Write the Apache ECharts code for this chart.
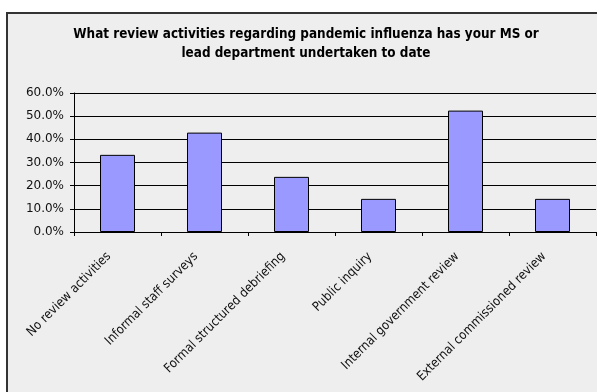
<!DOCTYPE html>
<html lang="en">
<head>
    <meta charset="utf-8">
    <title>Review activities</title>
    <style>
        html, body { margin: 0; padding: 0; background: #fff; }
        #main { width: 597px; height: 392px; }
    </style>
</head>
<body>
    <div id="main"></div>
    <script src="https://cdn.jsdelivr.net/npm/echarts@6/dist/echarts.min.js"></script>
    <script>
    var categories = [
        'No review activities',
        'Informal staff surveys',
        'Formal structured debriefing',
        'Public inquiry',
        'Internal government review',
        'External commissioned review'
    ];
    var values = [33.3, 42.9, 23.8, 14.3, 52.4, 14.3];
    var yTicks = [0, 10, 20, 30, 40, 50, 60];

    var chart = echarts.init(document.getElementById('main'));

    var option = {
        backgroundColor: '#ffffff',
        animation: false,
        textStyle: { fontFamily: 'DejaVu Sans Condensed' },
        graphic: [{
            type: 'rect',
            z: -10,
            shape: { x: 7, y: 13, width: 620, height: 400 },
            style: { fill: '#eeeeee', stroke: '#333333', lineWidth: 2 }
        }],
        title: {
            text: 'What review activities regarding pandemic influenza has your MS or\nlead department undertaken to date',
            left: 301,
            top: 20,
            textAlign: 'center',
            textStyle: {
                fontFamily: 'DejaVu Sans Condensed',
                fontSize: 13.4,
                fontWeight: 'bold',
                color: '#000',
                lineHeight: 19
            }
        },
        grid: { left: 74, top: 93, right: 1, bottom: 160 },
        xAxis: {
            type: 'category',
            data: categories,
            boundaryGap: true,
            axisLine: { lineStyle: { color: '#000', width: 1 } },
            axisTick: { show: true, alignWithLabel: false, length: 4, lineStyle: { color: '#000' } },
            axisLabel: {
                rotate: 45,
                interval: 0,
                fontSize: 12.8,
                color: '#111',
                margin: 14,
                padding: [0, 12, 0, 0]
            }
        },
        yAxis: {
            type: 'value',
            min: yTicks[0],
            max: yTicks[yTicks.length - 1],
            interval: 10,
            axisLine: { show: true, lineStyle: { color: '#000' } },
            axisTick: { show: true, length: 4, lineStyle: { color: '#000' } },
            splitLine: { lineStyle: { color: '#000', width: 1 } },
            axisLabel: {
                fontFamily: 'DejaVu Sans',
                fontSize: 12,
                color: '#111',
                margin: 10,
                formatter: function (v) { return v.toFixed(1) + '%'; }
            }
        },
        series: [{
            type: 'bar',
            data: values,
            barWidth: 35,
            itemStyle: { color: '#9999ff', borderColor: '#000', borderWidth: 1 }
        }]
    };

    chart.setOption(option);
    </script>
</body>
</html>
